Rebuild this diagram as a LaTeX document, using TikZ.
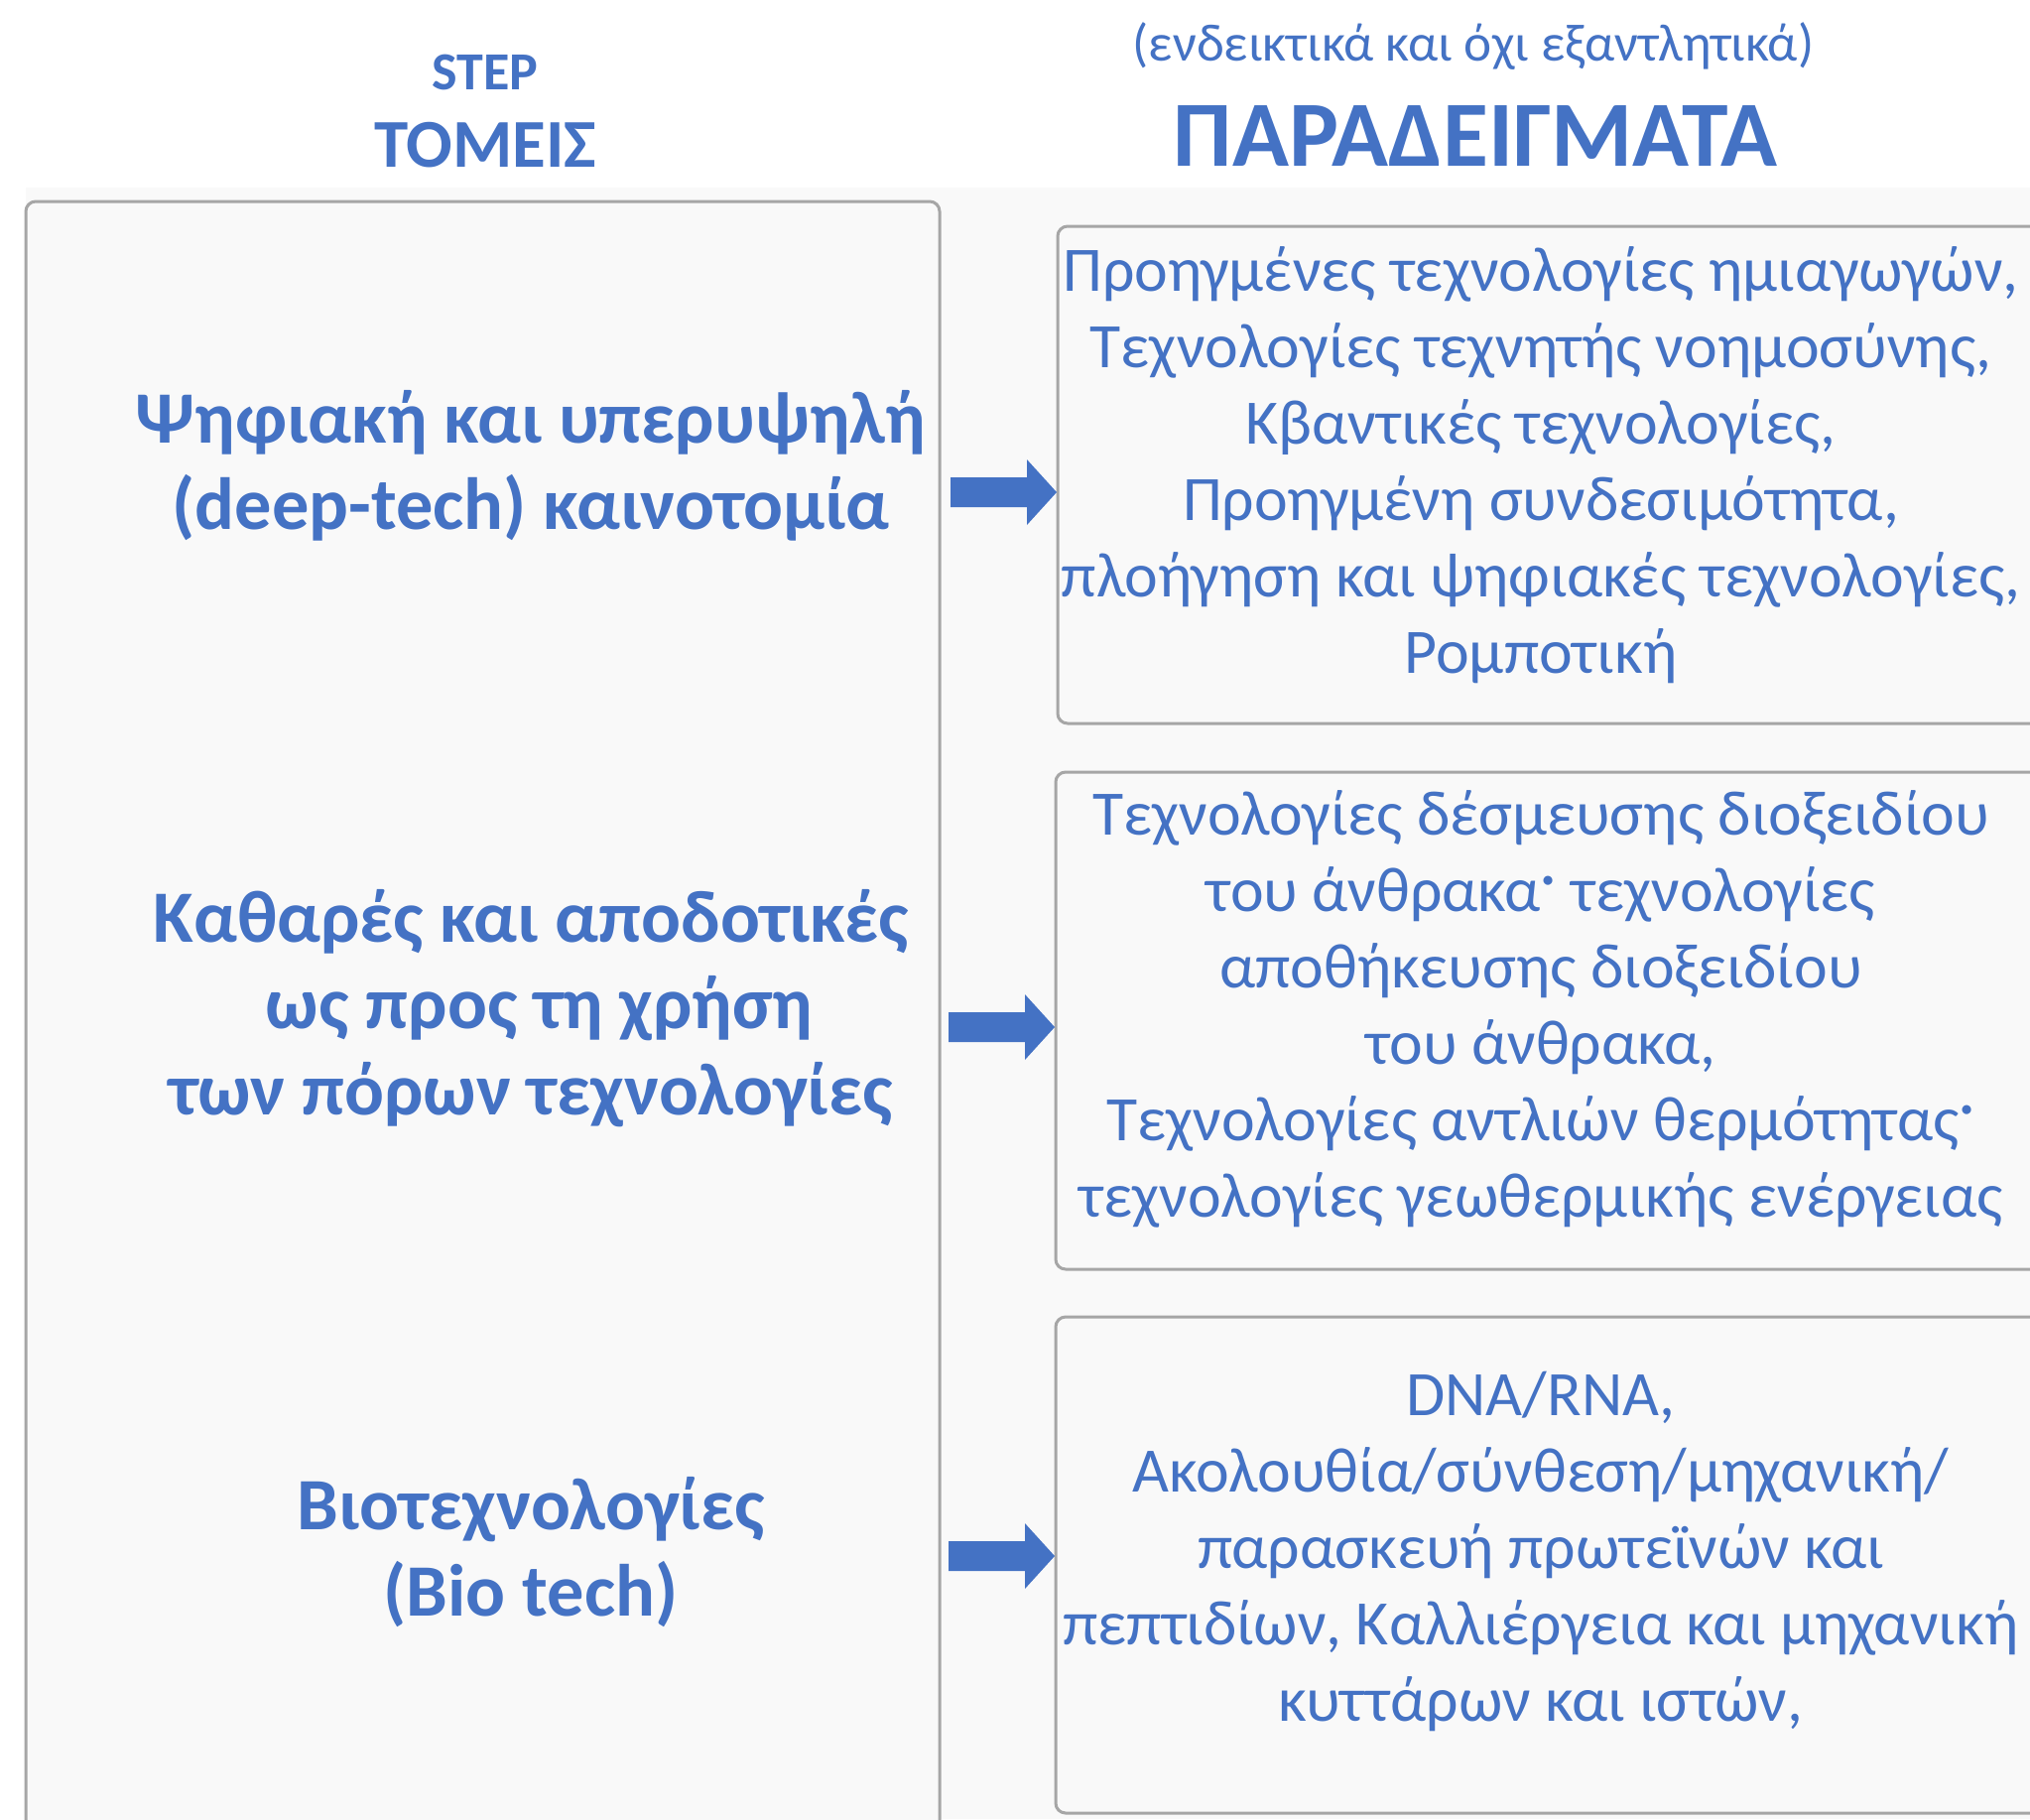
\documentclass[tikz,border=0pt]{standalone}
\usepackage{fontspec}
\setmainfont{Carlito}
\definecolor{txtblue}{HTML}{4472C4}
\definecolor{brd}{HTML}{A6A6A6}
\definecolor{panel}{HTML}{F9F9F9}
\newcommand{\anoteleia}{\raisebox{0.2em}{·}}
\tikzset{
  boxline/.style={draw=brd, line width=1.5pt, fill=panel, rounded corners=5pt},
  lefttxt/.style={text=txtblue, align=center, inner sep=0pt, font=\bfseries\fontsize{37.2pt}{43.5pt}\selectfont},
  righttxt/.style={text=txtblue, align=center, inner sep=0pt, font=\fontsize{31.9pt}{38.5pt}\selectfont},
  blockarrow/.style={fill=txtblue}
}
\begin{document}
\begin{tikzpicture}[x=0.5pt,y=-0.5pt]
\useasboundingbox (0,0) rectangle (2046,1833);
\fill[white] (0,0) rectangle (2046,1833);
\fill[panel] (26,189) rectangle (2046,1833);
% headers
\node[text=txtblue, inner sep=0pt, anchor=base, font=\bfseries\fontsize{27pt}{30pt}\selectfont] (step) at (489,90) {STEP};
\node[text=txtblue, inner sep=0pt, anchor=base, font=\bfseries\fontsize{34.5pt}{38pt}\selectfont] (tomeis) at (489,168) {ΤΟΜΕΙΣ};
\node[text=txtblue, inner sep=0pt, anchor=base, font=\fontsize{26.6pt}{30pt}\selectfont] (note) at (1485,61) {(ενδεικτικά και όχι εξαντλητικά)};
\node[text=txtblue, inner sep=0pt, anchor=base, font=\bfseries\fontsize{47pt}{52pt}\selectfont] (para) at (1487,167) {ΠΑΡΑΔΕΙΓΜΑΤΑ};
% boxes
\draw[boxline] (26,203) rectangle (947,1850);
\draw[boxline] (1066,228) rectangle (2080,729);
\draw[boxline] (1064,778) rectangle (2080,1279);
\draw[boxline] (1064,1327) rectangle (2080,1827);
% left texts
\node[lefttxt] (s1) at (535,469) {Ψηφιακή και υπερυψηλή\\(deep-tech) καινοτομία};
\node[lefttxt] (s2) at (535,1016) {Καθαρές και αποδοτικές\\\hspace*{8.5pt}ως προς τη χρήση\\των πόρων τεχνολογίες};
\node[lefttxt] (s3) at (535,1564) {Βιοτεχνολογίες\\(Bio tech)};
% right texts
\node[righttxt] (e1) at (1553,469) {Προηγμένες τεχνολογίες ημιαγωγών,\\Τεχνολογίες τεχνητής νοημοσύνης,\\Κβαντικές τεχνολογίες,\\Προηγμένη συνδεσιμότητα,\\πλοήγηση και ψηφιακές τεχνολογίες,\\Ρομποτική};
\node[righttxt] (e2) at (1553,1017) {Τεχνολογίες δέσμευσης διοξειδίου\\του άνθρακα\anoteleia{} τεχνολογίες\\αποθήκευσης διοξειδίου\\του άνθρακα,\\Τεχνολογίες αντλιών θερμότητας\anoteleia\\τεχνολογίες γεωθερμικής ενέργειας};
\node[righttxt] (e3) at (1553,1563) {DNA/RNA,\\Ακολουθία/σύνθεση/μηχανική/\\παρασκευή πρωτεϊνών και\\πεπτιδίων, Καλλιέργεια και μηχανική\\κυττάρων και ιστών,};
% arrows
\coordinate (t1) at (1065,496);
\coordinate (t2) at (1063,1035);
\coordinate (t3) at (1063,1568);
\foreach \t in {t1,t2,t3}{
  \fill[blockarrow] (\t) -- ++(-30,-33) -- ++(0,18) -- ++(-77,0) -- ++(0,30) -- ++(77,0) -- ++(0,18) -- cycle;
}
\end{tikzpicture}
\end{document}
